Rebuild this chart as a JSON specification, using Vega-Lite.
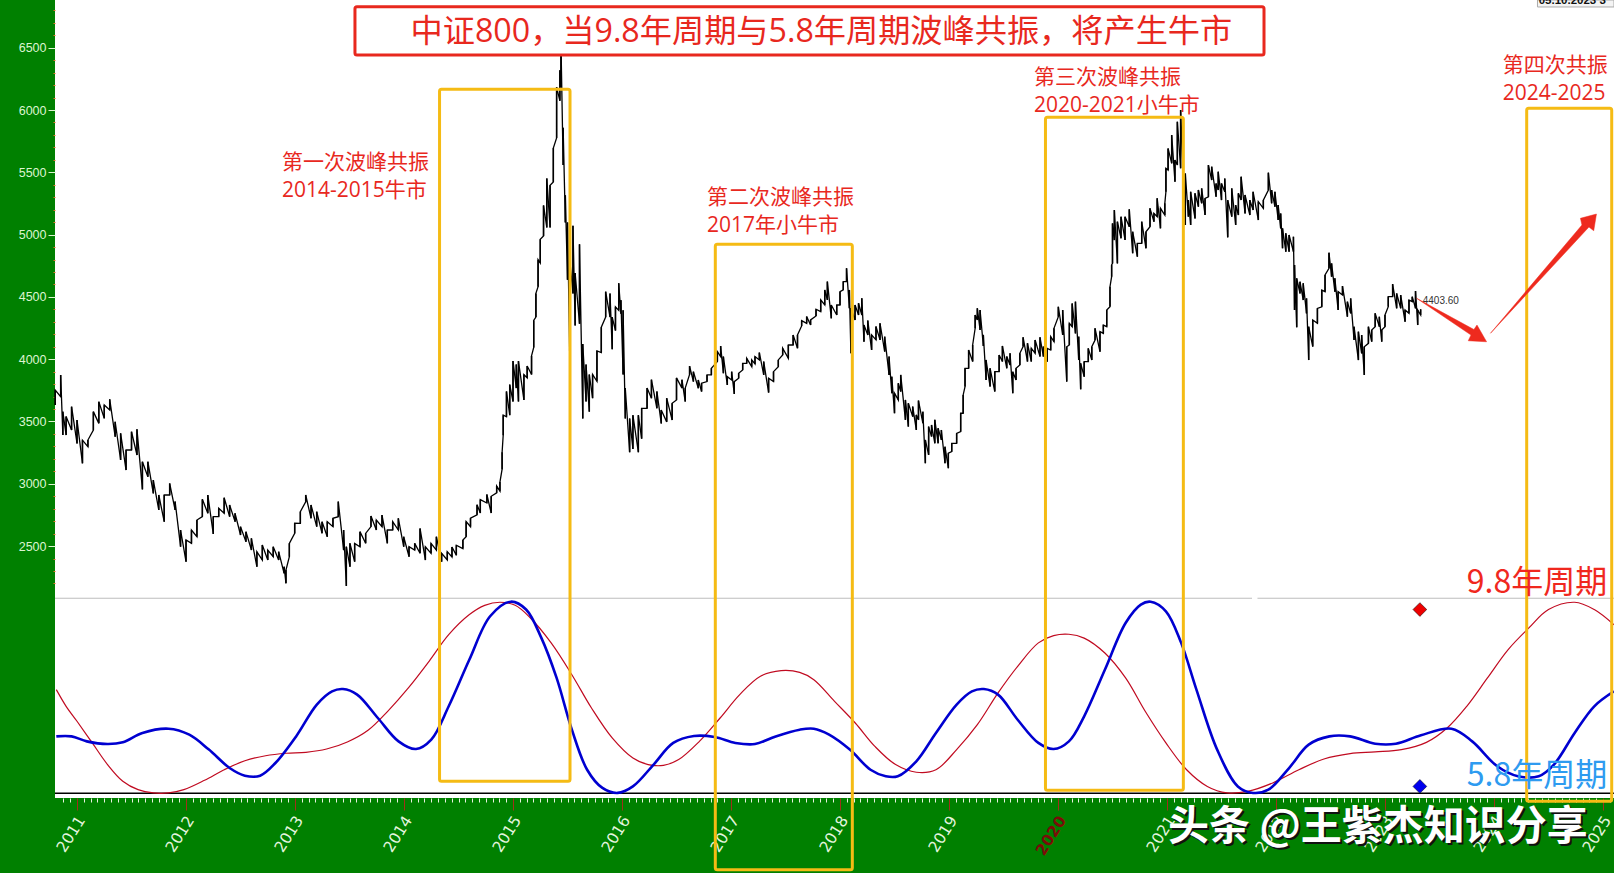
{
  "$schema": "https://vega.github.io/schema/vega-lite/v6.json",
  "width": 1559,
  "height": 798,
  "autosize": "none",
  "padding": {"left": 55, "top": 0, "right": 0, "bottom": 75},
  "background": "#008000",
  "view": {"fill": "white", "stroke": null},
  "config": {"font": "Noto Sans CJK SC"},
  "datasets": {
    "price": [
      {"t":2010.80,"low":3632,"high":3752},{"t":2010.85,"low":3699,"high":3873},{"t":2010.87,"low":3391,"high":3579},{"t":2010.90,"low":3391,"high":3540},{"t":2010.95,"low":3431,"high":3619},{"t":2011.00,"low":3324,"high":3512},{"t":2011.05,"low":3164,"high":3350},{"t":2011.10,"low":3298,"high":3351},{"t":2011.15,"low":3431,"high":3579},{"t":2011.20,"low":3485,"high":3659},{"t":2011.25,"low":3525,"high":3632},{"t":2011.30,"low":3592,"high":3678},{"t":2011.35,"low":3378,"high":3498},{"t":2011.40,"low":3191,"high":3405},{"t":2011.45,"low":3110,"high":3271},{"t":2011.50,"low":3271,"high":3418},{"t":2011.55,"low":3231,"high":3437},{"t":2011.60,"low":2955,"high":3177},{"t":2011.65,"low":3057,"high":3177},{"t":2011.70,"low":2923,"high":3030},{"t":2011.75,"low":2790,"high":2910},{"t":2011.80,"low":2696,"high":2910},{"t":2011.85,"low":2910,"high":3003},{"t":2011.90,"low":2790,"high":2857},{"t":2011.95,"low":2495,"high":2629},{"t":2012.00,"low":2375,"high":2549},{"t":2012.05,"low":2522,"high":2629},{"t":2012.10,"low":2575,"high":2709},{"t":2012.15,"low":2736,"high":2875},{"t":2012.20,"low":2763,"high":2910},{"t":2012.25,"low":2597,"high":2736},{"t":2012.30,"low":2736,"high":2803},{"t":2012.35,"low":2763,"high":2888},{"t":2012.40,"low":2736,"high":2830},{"t":2012.45,"low":2696,"high":2763},{"t":2012.50,"low":2589,"high":2656},{"t":2012.55,"low":2535,"high":2616},{"t":2012.60,"low":2468,"high":2562},{"t":2012.65,"low":2335,"high":2455},{"t":2012.70,"low":2388,"high":2509},{"t":2012.75,"low":2388,"high":2468},{"t":2012.80,"low":2415,"high":2495},{"t":2012.85,"low":2388,"high":2455},{"t":2012.90,"low":2281,"high":2335},
      {"t":2012.917,"low":2201,"high":2308},{"t":2012.948,"low":2415,"high":2522},{"t":2012.997,"low":2602,"high":2683},{"t":2013.049,"low":2682,"high":2776},{"t":2013.098,"low":2856,"high":2910},{"t":2013.147,"low":2723,"high":2830},{"t":2013.199,"low":2656,"high":2776},{"t":2013.248,"low":2602,"high":2696},{"t":2013.296,"low":2575,"high":2696},{"t":2013.348,"low":2656,"high":2723},{"t":2013.397,"low":2736,"high":2857},{"t":2013.446,"low":2468,"high":2629},{"t":2013.471,"low":2180,"high":2495},{"t":2013.504,"low":2335,"high":2522},{"t":2013.547,"low":2375,"high":2522},{"t":2013.596,"low":2495,"high":2616},{"t":2013.648,"low":2522,"high":2602},{"t":2013.697,"low":2656,"high":2741},{"t":2013.746,"low":2629,"high":2709},{"t":2013.798,"low":2656,"high":2749},{"t":2013.847,"low":2522,"high":2629},{"t":2013.896,"low":2629,"high":2696},{"t":2013.948,"low":2629,"high":2723},{"t":2013.997,"low":2495,"high":2575},{"t":2014.046,"low":2415,"high":2495},{"t":2014.098,"low":2468,"high":2522},{"t":2014.147,"low":2442,"high":2642},{"t":2014.196,"low":2388,"high":2495},{"t":2014.248,"low":2442,"high":2522},{"t":2014.297,"low":2468,"high":2575},{"t":2014.345,"low":2375,"high":2442},{"t":2014.397,"low":2388,"high":2455},
      {"t":2014.44,"low":2412,"high":2493},{"t":2014.48,"low":2426,"high":2507},{"t":2014.54,"low":2480,"high":2548},{"t":2014.57,"low":2575,"high":2697},{"t":2014.61,"low":2656,"high":2724},{"t":2014.67,"low":2751,"high":2832},{"t":2014.70,"low":2765,"high":2873},{"t":2014.76,"low":2846,"high":2914},{"t":2014.80,"low":2765,"high":2900},{"t":2014.85,"low":2927,"high":2982},{"t":2014.88,"low":2941,"high":3014},{"t":2014.90,"low":3117,"high":3253},{"t":2014.91,"low":3389,"high":3551},{"t":2014.94,"low":3538,"high":3741},{"t":2014.97,"low":3551,"high":3796},{"t":2015.00,"low":3660,"high":3985},{"t":2015.03,"low":3768,"high":3958},{"t":2015.05,"low":3660,"high":3985},{"t":2015.10,"low":3673,"high":3877},{"t":2015.13,"low":3850,"high":3945},{"t":2015.17,"low":3877,"high":4026},{"t":2015.19,"low":4094,"high":4311},{"t":2015.21,"low":4338,"high":4528},{"t":2015.23,"low":4582,"high":4799},{"t":2015.25,"low":4772,"high":4962},{"t":2015.28,"low":4989,"high":5234},{"t":2015.31,"low":5057,"high":5451},{"t":2015.34,"low":5057,"high":5396},{"t":2015.37,"low":5423,"high":5695},{"t":2015.40,"low":5776,"high":6183},{"t":2015.43,"low":6074,"high":6319},{"t":2015.44,"low":6183,"high":6540},{"t":2015.46,"low":5559,"high":5857},{"t":2015.48,"low":5098,"high":5315},{"t":2015.50,"low":4637,"high":5098},{"t":2015.52,"low":4067,"high":4799},{"t":2015.55,"low":4528,"high":5071},{"t":2015.57,"low":4270,"high":4691},{"t":2015.61,"low":4284,"high":4922},{"t":2015.64,"low":3524,"high":4121},{"t":2015.67,"low":3660,"high":3958},{"t":2015.70,"low":3579,"high":3877},{"t":2015.73,"low":3687,"high":3877},{"t":2015.77,"low":3823,"high":4067},{"t":2015.81,"low":4053,"high":4257},{"t":2015.85,"low":4338,"high":4542},{"t":2015.89,"low":4338,"high":4528},{"t":2015.91,"low":4080,"high":4338},{"t":2015.94,"low":4230,"high":4420},{"t":2015.97,"low":4392,"high":4610},{"t":2015.99,"low":4365,"high":4474},{"t":2016.01,"low":3877,"high":4392},{"t":2016.03,"low":3524,"high":3768},{"t":2016.07,"low":3253,"high":3524},{"t":2016.10,"low":3280,"high":3551},{"t":2016.15,"low":3253,"high":3551},{"t":2016.18,"low":3362,"high":3606},{"t":2016.23,"low":3606,"high":3768},{"t":2016.27,"low":3687,"high":3836},{"t":2016.32,"low":3606,"high":3741},{"t":2016.36,"low":3484,"high":3592},{"t":2016.41,"low":3497,"high":3687},{"t":2016.46,"low":3511,"high":3646},{"t":2016.50,"low":3673,"high":3850},{"t":2016.55,"low":3768,"high":3836},{"t":2016.58,"low":3660,"high":3768},{"t":2016.62,"low":3877,"high":3945},
      {"t":2016.655,"low":3820,"high":3900},{"t":2016.70,"low":3767,"high":3833},{"t":2016.73,"low":3740,"high":3807},{"t":2016.78,"low":3820,"high":3874},{"t":2016.82,"low":3874,"high":3927},{"t":2016.875,"low":3981,"high":4061},{"t":2016.905,"low":4021,"high":4106},{"t":2016.93,"low":3887,"high":4021},{"t":2016.966,"low":3793,"high":3860},{"t":2017.006,"low":3833,"high":3900},{"t":2017.03,"low":3721,"high":3820},{"t":2017.07,"low":3847,"high":3887},{"t":2017.107,"low":3914,"high":3967},{"t":2017.144,"low":3967,"high":4007},{"t":2017.19,"low":3940,"high":3994},{"t":2017.22,"low":3962,"high":4021},{"t":2017.26,"low":3994,"high":4053},{"t":2017.30,"low":3874,"high":3981},{"t":2017.345,"low":3732,"high":3847},{"t":2017.39,"low":3820,"high":3900},{"t":2017.434,"low":3940,"high":3994},{"t":2017.474,"low":4034,"high":4088},{"t":2017.526,"low":4007,"high":4114},{"t":2017.57,"low":4114,"high":4195},{"t":2017.61,"low":4088,"high":4195},{"t":2017.648,"low":4267,"high":4310},{"t":2017.694,"low":4288,"high":4342},{"t":2017.73,"low":4275,"high":4315},{"t":2017.78,"low":4347,"high":4401},{"t":2017.823,"low":4382,"high":4476},{"t":2017.86,"low":4435,"high":4556},{"t":2017.884,"low":4476,"high":4623},{"t":2017.92,"low":4328,"high":4435},{"t":2017.97,"low":4355,"high":4435},{"t":2018.00,"low":4435,"high":4542},{"t":2018.03,"low":4556,"high":4623},{"t":2018.06,"low":4623,"high":4730},{"t":2018.086,"low":4409,"high":4556},{"t":2018.10,"low":4047,"high":4409},{"t":2018.138,"low":4315,"high":4435},{"t":2018.17,"low":4355,"high":4449},{"t":2018.20,"low":4355,"high":4489},{"t":2018.22,"low":4141,"high":4275},{"t":2018.255,"low":4195,"high":4310},{"t":2018.29,"low":4074,"high":4195},{"t":2018.33,"low":4155,"high":4262},{"t":2018.367,"low":4155,"high":4288},{"t":2018.41,"low":4061,"high":4181},{"t":2018.45,"low":3874,"high":4021},{"t":2018.475,"low":3727,"high":3860},{"t":2018.50,"low":3566,"high":3727},{"t":2018.535,"low":3673,"high":3807},{"t":2018.557,"low":3740,"high":3874},{"t":2018.60,"low":3513,"high":3673},{"t":2018.627,"low":3459,"high":3646},{"t":2018.667,"low":3539,"high":3620},{"t":2018.70,"low":3432,"high":3553},{"t":2018.72,"low":3513,"high":3668},{"t":2018.76,"low":3486,"high":3579},{"t":2018.783,"low":3165,"high":3352},{"t":2018.813,"low":3232,"high":3459},{"t":2018.84,"low":3379,"high":3472},{"t":2018.87,"low":3325,"high":3513},{"t":2018.90,"low":3325,"high":3446},{"t":2018.93,"low":3352,"high":3432},{"t":2018.963,"low":3165,"high":3298},{"t":2018.994,"low":3125,"high":3245},{"t":2019.025,"low":3258,"high":3325},{"t":2019.07,"low":3325,"high":3405},{"t":2019.107,"low":3419,"high":3566},{"t":2019.13,"low":3566,"high":3713},{"t":2019.147,"low":3780,"high":3927},{"t":2019.18,"low":3927,"high":4074},{"t":2019.217,"low":3981,"high":4114},{"t":2019.24,"low":4248,"high":4355},{"t":2019.26,"low":4315,"high":4409},{"t":2019.285,"low":4235,"high":4395},{"t":2019.315,"low":4106,"high":4195},{"t":2019.34,"low":3834,"high":3994},{"t":2019.377,"low":3780,"high":3927},{"t":2019.42,"low":3740,"high":3900},{"t":2019.46,"low":3900,"high":4034},{"t":2019.49,"low":3981,"high":4106},{"t":2019.53,"low":3927,"high":4021},{"t":2019.56,"low":3954,"high":4047},{"t":2019.585,"low":3727,"high":3900},{"t":2019.615,"low":3833,"high":3927},{"t":2019.65,"low":3954,"high":4047},{"t":2019.68,"low":4101,"high":4176},{"t":2019.72,"low":3981,"high":4128},{"t":2019.755,"low":3981,"high":4088},{"t":2019.79,"low":4047,"high":4155},{"t":2019.835,"low":4021,"high":4176},{"t":2019.866,"low":4021,"high":4101},
      {"t":2019.90,"low":3980,"high":4087},{"t":2019.933,"low":4074,"high":4181},{"t":2019.963,"low":4141,"high":4248},{"t":2020.003,"low":4341,"high":4421},{"t":2020.043,"low":4194,"high":4395},{"t":2020.08,"low":3820,"high":4100},{"t":2020.104,"low":4114,"high":4288},{"t":2020.13,"low":4261,"high":4448},{"t":2020.16,"low":4207,"high":4462},{"t":2020.19,"low":3994,"high":4181},{"t":2020.208,"low":3758,"high":3967},{"t":2020.24,"low":3860,"high":3980},{"t":2020.278,"low":3980,"high":4087},{"t":2020.31,"low":3994,"high":4100},{"t":2020.34,"low":4154,"high":4248},{"t":2020.385,"low":4060,"high":4221},{"t":2020.416,"low":4207,"high":4274},{"t":2020.447,"low":4261,"high":4395},{"t":2020.477,"low":4422,"high":4582},{"t":2020.492,"low":4662,"high":4756},{"t":2020.50,"low":4769,"high":5090},{"t":2020.517,"low":4956,"high":5197},{"t":2020.545,"low":4769,"high":5104},{"t":2020.578,"low":4970,"high":5144},{"t":2020.615,"low":4957,"high":5144},{"t":2020.654,"low":5063,"high":5203},{"t":2020.685,"low":4850,"high":5023},{"t":2020.728,"low":4823,"high":4930},{"t":2020.768,"low":4930,"high":5104},{"t":2020.807,"low":4890,"high":5023},{"t":2020.844,"low":5063,"high":5211},{"t":2020.88,"low":5104,"high":5171},{"t":2020.91,"low":5144,"high":5291},{"t":2020.94,"low":5050,"high":5211},{"t":2020.98,"low":5157,"high":5251},{"t":2020.99,"low":5344,"high":5532},{"t":2021.01,"low":5518,"high":5692},{"t":2021.043,"low":5572,"high":5799},{"t":2021.073,"low":5425,"high":5598},{"t":2021.095,"low":5558,"high":5906},{"t":2021.125,"low":5532,"high":6000},{"t":2021.168,"low":5077,"high":5491},{"t":2021.196,"low":5144,"high":5277},{"t":2021.217,"low":5077,"high":5344},{"t":2021.257,"low":5130,"high":5331},{"t":2021.288,"low":5224,"high":5358},{"t":2021.318,"low":5251,"high":5371},{"t":2021.349,"low":5157,"high":5291},{"t":2021.38,"low":5304,"high":5558},{"t":2021.41,"low":5438,"high":5545},{"t":2021.45,"low":5304,"high":5411},{"t":2021.47,"low":5358,"high":5505},{"t":2021.50,"low":5277,"high":5411},{"t":2021.53,"low":5344,"high":5451},{"t":2021.557,"low":4978,"high":5277},{"t":2021.594,"low":5144,"high":5371},{"t":2021.63,"low":5077,"high":5237},{"t":2021.655,"low":5157,"high":5331},{"t":2021.68,"low":5277,"high":5465},{"t":2021.716,"low":5170,"high":5318},{"t":2021.76,"low":5157,"high":5277},{"t":2021.79,"low":5197,"high":5344},{"t":2021.838,"low":5117,"high":5264},{"t":2021.884,"low":5211,"high":5277},{"t":2021.93,"low":5358,"high":5497},{"t":2021.96,"low":5251,"high":5358},{"t":2021.99,"low":5224,"high":5344},{"t":2022.02,"low":5117,"high":5237},{"t":2022.043,"low":5050,"high":5170},{"t":2022.06,"low":4890,"high":5050},{"t":2022.09,"low":4863,"high":5010},{"t":2022.12,"low":4863,"high":4997},{"t":2022.16,"low":4863,"high":4983},{"t":2022.17,"low":4395,"high":4756},{"t":2022.19,"low":4256,"high":4649},{"t":2022.22,"low":4528,"high":4622},{"t":2022.25,"low":4475,"high":4609},{"t":2022.28,"low":4368,"high":4488},{"t":2022.30,"low":3993,"high":4261},{"t":2022.337,"low":4101,"high":4315},{"t":2022.38,"low":4288,"high":4408},{"t":2022.42,"low":4421,"high":4555},{"t":2022.45,"low":4542,"high":4676},{"t":2022.486,"low":4729,"high":4855},{"t":2022.51,"low":4662,"high":4769},{"t":2022.54,"low":4542,"high":4649},{"t":2022.57,"low":4395,"high":4542},{"t":2022.61,"low":4515,"high":4587},{"t":2022.655,"low":4341,"high":4462},{"t":2022.685,"low":4368,"high":4488},{"t":2022.716,"low":4154,"high":4261},{"t":2022.756,"low":3993,"high":4221},{"t":2022.786,"low":4047,"high":4194},{"t":2022.81,"low":3873,"high":4100},{"t":2022.848,"low":4127,"high":4261},{"t":2022.878,"low":4141,"high":4234},{"t":2022.91,"low":4261,"high":4368},{"t":2022.948,"low":4261,"high":4341},{"t":2022.97,"low":4141,"high":4234},{"t":2023.00,"low":4261,"high":4355},{"t":2023.03,"low":4422,"high":4502},{"t":2023.07,"low":4502,"high":4603},{"t":2023.107,"low":4408,"high":4528},{"t":2023.144,"low":4408,"high":4515},{"t":2023.184,"low":4301,"high":4395},{"t":2023.22,"low":4368,"high":4475},{"t":2023.25,"low":4462,"high":4502},{"t":2023.28,"low":4408,"high":4547},{"t":2023.30,"low":4274,"high":4395},{"t":2023.327,"low":4355,"high":4400}
    ],
    "cycles": [
      {"cycle":"9.8","t":2010.81,"v":54.1},{"cycle":"9.8","t":2010.90,"v":45.4},{"cycle":"9.8","t":2011.0,"v":37.6},{"cycle":"9.8","t":2011.14,"v":26.3},{"cycle":"9.8","t":2011.28,"v":15},{"cycle":"9.8","t":2011.42,"v":6.3},{"cycle":"9.8","t":2011.56,"v":1.9},{"cycle":"9.8","t":2011.70,"v":0.2},{"cycle":"9.8","t":2011.84,"v":0.2},{"cycle":"9.8","t":2011.98,"v":1.9},{"cycle":"9.8","t":2012.17,"v":6.8},{"cycle":"9.8","t":2012.35,"v":12.3},{"cycle":"9.8","t":2012.54,"v":17},{"cycle":"9.8","t":2012.73,"v":19.6},{"cycle":"9.8","t":2012.92,"v":20.9},{"cycle":"9.8","t":2013.10,"v":21.4},{"cycle":"9.8","t":2013.29,"v":23.1},{"cycle":"9.8","t":2013.48,"v":26.8},{"cycle":"9.8","t":2013.67,"v":32.9},{"cycle":"9.8","t":2013.85,"v":42.8},{"cycle":"9.8","t":2014.04,"v":55},{"cycle":"9.8","t":2014.23,"v":68.9},{"cycle":"9.8","t":2014.41,"v":82.8},{"cycle":"9.8","t":2014.60,"v":93.3},{"cycle":"9.8","t":2014.74,"v":98.1},{"cycle":"9.8","t":2014.88,"v":99.7},{"cycle":"9.8","t":2015.02,"v":98.1},{"cycle":"9.8","t":2015.16,"v":91.5},{"cycle":"9.8","t":2015.35,"v":78.5},{"cycle":"9.8","t":2015.54,"v":61.9},{"cycle":"9.8","t":2015.72,"v":44.5},{"cycle":"9.8","t":2015.91,"v":28.9},{"cycle":"9.8","t":2016.10,"v":18.4},{"cycle":"9.8","t":2016.24,"v":15},{"cycle":"9.8","t":2016.38,"v":14.6},{"cycle":"9.8","t":2016.52,"v":17.6},{"cycle":"9.8","t":2016.71,"v":27.1},{"cycle":"9.8","t":2016.90,"v":39.3},{"cycle":"9.8","t":2017.08,"v":51.5},{"cycle":"9.8","t":2017.27,"v":61.1},{"cycle":"9.8","t":2017.46,"v":64},{"cycle":"9.8","t":2017.63,"v":63.1},{"cycle":"9.8","t":2017.76,"v":59.3},{"cycle":"9.8","t":2017.95,"v":48},{"cycle":"9.8","t":2018.14,"v":36.7},{"cycle":"9.8","t":2018.32,"v":24.5},{"cycle":"9.8","t":2018.51,"v":15},{"cycle":"9.8","t":2018.70,"v":11},{"cycle":"9.8","t":2018.88,"v":12.3},{"cycle":"9.8","t":2019.07,"v":22.8},{"cycle":"9.8","t":2019.26,"v":35.8},{"cycle":"9.8","t":2019.45,"v":52.4},{"cycle":"9.8","t":2019.63,"v":66.3},{"cycle":"9.8","t":2019.82,"v":78.5},{"cycle":"9.8","t":2019.96,"v":82.3},{"cycle":"9.8","t":2020.10,"v":83},{"cycle":"9.8","t":2020.24,"v":81},{"cycle":"9.8","t":2020.43,"v":73.2},{"cycle":"9.8","t":2020.62,"v":60.2},{"cycle":"9.8","t":2020.80,"v":42.8},{"cycle":"9.8","t":2020.99,"v":26.3},{"cycle":"9.8","t":2021.18,"v":12.3},{"cycle":"9.8","t":2021.37,"v":3.6},{"cycle":"9.8","t":2021.55,"v":0.2},{"cycle":"9.8","t":2021.74,"v":1},{"cycle":"9.8","t":2021.97,"v":5.4},{"cycle":"9.8","t":2022.21,"v":12.3},{"cycle":"9.8","t":2022.44,"v":17.9},{"cycle":"9.8","t":2022.68,"v":20.7},{"cycle":"9.8","t":2022.91,"v":21.6},{"cycle":"9.8","t":2023.15,"v":22.8},{"cycle":"9.8","t":2023.38,"v":26.6},{"cycle":"9.8","t":2023.57,"v":34.1},{"cycle":"9.8","t":2023.75,"v":45.4},{"cycle":"9.8","t":2023.94,"v":60.2},{"cycle":"9.8","t":2024.13,"v":75},{"cycle":"9.8","t":2024.32,"v":86.3},{"cycle":"9.8","t":2024.50,"v":95.9},{"cycle":"9.8","t":2024.74,"v":99.7},{"cycle":"9.8","t":2024.92,"v":95.9},{"cycle":"9.8","t":2025.10,"v":88},
      {"cycle":"5.8","t":2010.81,"v":29.7},{"cycle":"5.8","t":2010.95,"v":29.7},{"cycle":"5.8","t":2011.09,"v":27.1},{"cycle":"5.8","t":2011.28,"v":25.7},{"cycle":"5.8","t":2011.42,"v":26.6},{"cycle":"5.8","t":2011.60,"v":31.5},{"cycle":"5.8","t":2011.84,"v":33.7},{"cycle":"5.8","t":2012.03,"v":30.6},{"cycle":"5.8","t":2012.21,"v":22.8},{"cycle":"5.8","t":2012.40,"v":13.2},{"cycle":"5.8","t":2012.54,"v":9.2},{"cycle":"5.8","t":2012.68,"v":9.2},{"cycle":"5.8","t":2012.82,"v":15.8},{"cycle":"5.8","t":2013.01,"v":29.7},{"cycle":"5.8","t":2013.20,"v":46.3},{"cycle":"5.8","t":2013.34,"v":53.2},{"cycle":"5.8","t":2013.44,"v":54.4},{"cycle":"5.8","t":2013.57,"v":51.5},{"cycle":"5.8","t":2013.76,"v":39.3},{"cycle":"5.8","t":2013.95,"v":27.1},{"cycle":"5.8","t":2014.11,"v":23.1},{"cycle":"5.8","t":2014.25,"v":28},{"cycle":"5.8","t":2014.41,"v":45.4},{"cycle":"5.8","t":2014.60,"v":69.8},{"cycle":"5.8","t":2014.79,"v":92.4},{"cycle":"5.8","t":2014.98,"v":100},{"cycle":"5.8","t":2015.12,"v":95.9},{"cycle":"5.8","t":2015.26,"v":81.1},{"cycle":"5.8","t":2015.40,"v":60.2},{"cycle":"5.8","t":2015.54,"v":33.2},{"cycle":"5.8","t":2015.68,"v":12.3},{"cycle":"5.8","t":2015.82,"v":2.8},{"cycle":"5.8","t":2015.96,"v":0.2},{"cycle":"5.8","t":2016.10,"v":3.6},{"cycle":"5.8","t":2016.29,"v":15},{"cycle":"5.8","t":2016.47,"v":26.3},{"cycle":"5.8","t":2016.66,"v":29.9},{"cycle":"5.8","t":2016.85,"v":29.4},{"cycle":"5.8","t":2017.04,"v":26.3},{"cycle":"5.8","t":2017.22,"v":25.7},{"cycle":"5.8","t":2017.41,"v":29.7},{"cycle":"5.8","t":2017.63,"v":33.2},{"cycle":"5.8","t":2017.76,"v":33.7},{"cycle":"5.8","t":2017.90,"v":30.6},{"cycle":"5.8","t":2018.09,"v":22.8},{"cycle":"5.8","t":2018.28,"v":12.3},{"cycle":"5.8","t":2018.42,"v":8.9},{"cycle":"5.8","t":2018.53,"v":8.9},{"cycle":"5.8","t":2018.70,"v":16.7},{"cycle":"5.8","t":2018.88,"v":31.5},{"cycle":"5.8","t":2019.07,"v":46.3},{"cycle":"5.8","t":2019.21,"v":53.2},{"cycle":"5.8","t":2019.32,"v":54.4},{"cycle":"5.8","t":2019.45,"v":51.5},{"cycle":"5.8","t":2019.63,"v":38.4},{"cycle":"5.8","t":2019.82,"v":26.3},{"cycle":"5.8","t":2019.96,"v":23.1},{"cycle":"5.8","t":2020.10,"v":27.1},{"cycle":"5.8","t":2020.24,"v":40.2},{"cycle":"5.8","t":2020.43,"v":64.5},{"cycle":"5.8","t":2020.62,"v":88.9},{"cycle":"5.8","t":2020.76,"v":98.5},{"cycle":"5.8","t":2020.85,"v":100},{"cycle":"5.8","t":2020.99,"v":95},{"cycle":"5.8","t":2021.13,"v":78.5},{"cycle":"5.8","t":2021.27,"v":54.1},{"cycle":"5.8","t":2021.46,"v":22.8},{"cycle":"5.8","t":2021.65,"v":3.6},{"cycle":"5.8","t":2021.79,"v":0.2},{"cycle":"5.8","t":2021.93,"v":1.9},{"cycle":"5.8","t":2022.12,"v":13.2},{"cycle":"5.8","t":2022.30,"v":25.4},{"cycle":"5.8","t":2022.49,"v":29.7},{"cycle":"5.8","t":2022.68,"v":29.7},{"cycle":"5.8","t":2022.91,"v":25.9},{"cycle":"5.8","t":2023.10,"v":25.9},{"cycle":"5.8","t":2023.33,"v":30.3},{"cycle":"5.8","t":2023.61,"v":33.7},{"cycle":"5.8","t":2023.80,"v":27.1},{"cycle":"5.8","t":2024.03,"v":14.1},{"cycle":"5.8","t":2024.22,"v":8.9},{"cycle":"5.8","t":2024.41,"v":8.9},{"cycle":"5.8","t":2024.55,"v":15},{"cycle":"5.8","t":2024.74,"v":31.5},{"cycle":"5.8","t":2024.92,"v":45.4},{"cycle":"5.8","t":2025.10,"v":53.2}
    ],
    "boxes": [
      {"name":"第一次","t0":2014.326,"t1":2015.523,"p0":612,"p1":6166},
      {"name":"第二次","t0":2016.856,"t1":2018.113,"p0":-97,"p1":4922},
      {"name":"第三次","t0":2019.885,"t1":2021.15,"p0":540,"p1":5941},
      {"name":"第四次","t0":2024.30,"t1":2025.08,"p0":452,"p1":6014}
    ],
    "notes": [
      {"t":2012.88,"p":5575,"text":"第一次波峰共振"},
      {"t":2012.88,"p":5350,"text":"2014-2015牛市"},
      {"t":2016.78,"p":5290,"text":"第二次波峰共振"},
      {"t":2016.78,"p":5067,"text":"2017年小牛市"},
      {"t":2019.78,"p":6256,"text":"第三次波峰共振"},
      {"t":2019.78,"p":6036,"text":"2020-2021小牛市"},
      {"t":2024.08,"p":6352,"text":"第四次共振"},
      {"t":2024.08,"p":6127,"text":"2024-2025"}
    ],
    "arrows": [
      {"arrow":"down","i":1,"t":2023.29,"p":4489},{"arrow":"down","i":2,"t":2023.816,"p":4238},{"arrow":"down","i":3,"t":2023.844,"p":4274},{"arrow":"down","i":4,"t":2023.932,"p":4140},{"arrow":"down","i":5,"t":2023.764,"p":4148},{"arrow":"down","i":6,"t":2023.789,"p":4194},{"arrow":"down","i":7,"t":2023.29,"p":4489},
      {"arrow":"up","i":1,"t":2023.968,"p":4208},{"arrow":"up","i":2,"t":2024.807,"p":5077},{"arrow":"up","i":3,"t":2024.793,"p":5131},{"arrow":"up","i":4,"t":2024.94,"p":5165},{"arrow":"up","i":5,"t":2024.915,"p":5031},{"arrow":"up","i":6,"t":2024.871,"p":5061},{"arrow":"up","i":7,"t":2023.968,"p":4208}
    ]
  },
  "layer": [
    {
      "data": {"values": [{"t0":2010.798,"t1":2021.78,"v":101.8},{"t0":2021.83,"t1":2025.101,"v":101.8}]},
      "mark": {"type": "rule", "color": "#bdbdbd", "strokeWidth": 1},
      "encoding": {
        "x": {"field": "t0", "type": "quantitative", "scale": {"domain": [2010.798, 2025.101], "nice": false, "zero": false},
          "axis": {
            "title": null, "domain": false, "grid": false, "labelAngle": -58, "labelFont": "DejaVu Sans", "labelFontSize": 15.5,
            "labelAlign": "right", "labelBaseline": "middle", "labelPadding": 7, "labelOverlap": false, "labelBound": false, "labelFlush": false,
            "labelOffset": 4, "tickCount": 400,
            "labelExpr": "datum.value % 1 == 0 ? datum.value : ''",
            "labelColor": {"condition": {"test": "datum.value == 2020", "value": "#7a0c08"}, "value": "#e4f5df"},
            "labelFontWeight": {"condition": {"test": "datum.value == 2020", "value": "bold"}, "value": "normal"},
            "tickColor": {"condition": {"test": "datum.value % 1 == 0", "value": "#a0301a"}, "value": "#e8f2e0"},
            "tickSize": {"condition": {"test": "datum.value % 1 == 0", "value": 12}, "value": 4},
            "tickWidth": 1,
            "values": [2010.875,2010.9375,2011,2011.0625,2011.125,2011.1875,2011.25,2011.3125,2011.375,2011.4375,2011.5,2011.5625,2011.625,2011.6875,2011.75,2011.8125,2011.875,2011.9375,2012,2012.0625,2012.125,2012.1875,2012.25,2012.3125,2012.375,2012.4375,2012.5,2012.5625,2012.625,2012.6875,2012.75,2012.8125,2012.875,2012.9375,2013,2013.0625,2013.125,2013.1875,2013.25,2013.3125,2013.375,2013.4375,2013.5,2013.5625,2013.625,2013.6875,2013.75,2013.8125,2013.875,2013.9375,2014,2014.0625,2014.125,2014.1875,2014.25,2014.3125,2014.375,2014.4375,2014.5,2014.5625,2014.625,2014.6875,2014.75,2014.8125,2014.875,2014.9375,2015,2015.0625,2015.125,2015.1875,2015.25,2015.3125,2015.375,2015.4375,2015.5,2015.5625,2015.625,2015.6875,2015.75,2015.8125,2015.875,2015.9375,2016,2016.0625,2016.125,2016.1875,2016.25,2016.3125,2016.375,2016.4375,2016.5,2016.5625,2016.625,2016.6875,2016.75,2016.8125,2016.875,2016.9375,2017,2017.0625,2017.125,2017.1875,2017.25,2017.3125,2017.375,2017.4375,2017.5,2017.5625,2017.625,2017.6875,2017.75,2017.8125,2017.875,2017.9375,2018,2018.0625,2018.125,2018.1875,2018.25,2018.3125,2018.375,2018.4375,2018.5,2018.5625,2018.625,2018.6875,2018.75,2018.8125,2018.875,2018.9375,2019,2019.0625,2019.125,2019.1875,2019.25,2019.3125,2019.375,2019.4375,2019.5,2019.5625,2019.625,2019.6875,2019.75,2019.8125,2019.875,2019.9375,2020,2020.0625,2020.125,2020.1875,2020.25,2020.3125,2020.375,2020.4375,2020.5,2020.5625,2020.625,2020.6875,2020.75,2020.8125,2020.875,2020.9375,2021,2021.0625,2021.125,2021.1875,2021.25,2021.3125,2021.375,2021.4375,2021.5,2021.5625,2021.625,2021.6875,2021.75,2021.8125,2021.875,2021.9375,2022,2022.0625,2022.125,2022.1875,2022.25,2022.3125,2022.375,2022.4375,2022.5,2022.5625,2022.625,2022.6875,2022.75,2022.8125,2022.875,2022.9375,2023,2023.0625,2023.125,2023.1875,2023.25,2023.3125,2023.375,2023.4375,2023.5,2023.5625,2023.625,2023.6875,2023.75,2023.8125,2023.875,2023.9375,2024,2024.0625,2024.125,2024.1875,2024.25,2024.3125,2024.375,2024.4375,2024.5,2024.5625,2024.625,2024.6875,2024.75,2024.8125,2024.875,2024.9375,2025,2025.0625]
          }},
        "x2": {"field": "t1"},
        "y": {"field": "v", "type": "quantitative", "scale": {"domain": [-2.45, 414], "nice": false, "zero": false}, "axis": null}
      }
    },
    {
      "data": {"values": [{"v":0}]},
      "mark": {"type": "rule", "color": "black", "strokeWidth": 1.5},
      "encoding": {
        "y": {"field": "v", "type": "quantitative", "scale": {"domain": [-2.45, 414], "nice": false, "zero": false}, "axis": null}
      }
    },
    {
      "data": {"name": "price"},
      "mark": {"type": "rule", "color": "black", "strokeWidth": 1.5},
      "encoding": {
        "x": {"field": "t", "type": "quantitative"},
        "y": {"field": "low", "type": "quantitative", "scale": {"domain": [478, 6883], "nice": false, "zero": false},
          "axis": {
            "title": null, "domain": false, "grid": false, "labelFont": "Liberation Sans", "labelFontSize": 12.5, "labelColor": "#dcf5d0", "labelPadding": 2, "tickCount": 200,
            "values": [2200,2300,2400,2500,2600,2700,2800,2900,3000,3100,3200,3300,3400,3500,3600,3700,3800,3900,4000,4100,4200,4300,4400,4500,4600,4700,4800,4900,5000,5100,5200,5300,5400,5500,5600,5700,5800,5900,6000,6100,6200,6300,6400,6500,6600,6700,6800],
            "labelExpr": "datum.value % 500 == 0 ? datum.value : ''",
            "tickColor": {"condition": {"test": "datum.value % 500 == 0", "value": "#dcf5d0"}, "value": "#e0702a"},
            "tickSize": {"condition": {"test": "datum.value % 500 == 0", "value": 7}, "value": 2}
          }},
        "y2": {"field": "high"}
      }
    },
    {
      "data": {"name": "price"},
      "transform": [{"fold": ["low", "high"], "as": ["end", "index"]}],
      "mark": {"type": "line", "color": "black", "strokeWidth": 1.3, "interpolate": "linear"},
      "encoding": {
        "x": {"field": "t", "type": "quantitative"},
        "y": {"field": "index", "type": "quantitative", "scale": {"domain": [478, 6883], "nice": false, "zero": false}, "axis": null}
      }
    },
    {
      "data": {"name": "cycles"},
      "mark": {"type": "line", "interpolate": "catmull-rom"},
      "encoding": {
        "x": {"field": "t", "type": "quantitative"},
        "y": {"field": "v", "type": "quantitative", "scale": {"domain": [-2.45, 414], "nice": false, "zero": false}, "axis": null},
        "color": {"field": "cycle", "type": "nominal", "scale": {"domain": ["9.8", "5.8"], "range": ["#c00a20", "#0000d0"]}, "legend": null},
        "strokeWidth": {"field": "cycle", "type": "nominal", "scale": {"domain": ["9.8", "5.8"], "range": [1.2, 2.6]}, "legend": null}
      }
    },
    {
      "data": {"values": [{"cycle":"9.8","t":2023.32,"v":95.9},{"cycle":"5.8","t":2023.32,"v":3.6}]},
      "mark": {"type": "point", "shape": "diamond", "filled": true, "size": 190, "stroke": "black", "strokeWidth": 0.5, "opacity": 1},
      "encoding": {
        "x": {"field": "t", "type": "quantitative"},
        "y": {"field": "v", "type": "quantitative", "scale": {"domain": [-2.45, 414], "nice": false, "zero": false}, "axis": null},
        "fill": {"field": "cycle", "type": "nominal", "scale": {"domain": ["9.8", "5.8"], "range": ["#ee0000", "#0000ee"]}, "legend": null}
      }
    },
    {
      "data": {"values": [{"t":2023.346,"p":4467,"text":"4403.60"}]},
      "mark": {"type": "text", "align": "left", "baseline": "middle", "font": "Liberation Sans", "fontSize": 10, "color": "#333333"},
      "encoding": {
        "x": {"field": "t", "type": "quantitative"},
        "y": {"field": "p", "type": "quantitative", "scale": {"domain": [478, 6883], "nice": false, "zero": false}, "axis": null},
        "text": {"field": "text"}
      }
    },
    {
      "data": {"values": [{"t0":2024.399,"t1":2025.101,"p0":6827,"p1":6883}]},
      "mark": {"type": "rect", "fill": "#f4f4f4", "stroke": "#aaaaaa", "strokeWidth": 1},
      "encoding": {
        "x": {"field": "t0", "type": "quantitative"},
        "x2": {"field": "t1"},
        "y": {"field": "p0", "type": "quantitative", "scale": {"domain": [478, 6883], "nice": false, "zero": false}, "axis": null},
        "y2": {"field": "p1"}
      }
    },
    {
      "data": {"values": [{"t":2024.41,"p":6851,"text":"05.10.2023 3"}]},
      "mark": {"type": "text", "align": "left", "baseline": "alphabetic", "font": "Liberation Sans", "fontSize": 11.5, "fontWeight": "bold", "color": "#111111"},
      "encoding": {
        "x": {"field": "t", "type": "quantitative"},
        "y": {"field": "p", "type": "quantitative", "scale": {"domain": [478, 6883], "nice": false, "zero": false}, "axis": null},
        "text": {"field": "text"}
      }
    },
    {
      "data": {"values": [{"t0":2013.55,"t1":2021.89,"p0":6441,"p1":6829}]},
      "mark": {"type": "rect", "fill": "white", "stroke": "#e8281e", "strokeWidth": 3, "cornerRadius": 2},
      "encoding": {
        "x": {"field": "t0", "type": "quantitative"},
        "x2": {"field": "t1"},
        "y": {"field": "p0", "type": "quantitative", "scale": {"domain": [478, 6883], "nice": false, "zero": false}, "axis": null},
        "y2": {"field": "p1"}
      }
    },
    {
      "data": {"name": "boxes"},
      "mark": {"type": "rect", "fill": null, "stroke": "#f5bb14", "strokeWidth": 3, "cornerRadius": 2},
      "encoding": {
        "x": {"field": "t0", "type": "quantitative"},
        "x2": {"field": "t1"},
        "y": {"field": "p0", "type": "quantitative", "scale": {"domain": [478, 6883], "nice": false, "zero": false}, "axis": null},
        "y2": {"field": "p1"}
      }
    },
    {
      "data": {"name": "arrows"},
      "mark": {"type": "line", "fill": "#ee2a1e", "stroke": "#ee2a1e", "strokeWidth": 0.5, "interpolate": "linear"},
      "encoding": {
        "x": {"field": "t", "type": "quantitative"},
        "y": {"field": "p", "type": "quantitative", "scale": {"domain": [478, 6883], "nice": false, "zero": false}, "axis": null},
        "detail": {"field": "arrow"},
        "order": {"field": "i"}
      }
    },
    {
      "data": {"values": [{"t":2014.06,"p":6626,"text":"中证800，当9.8年周期与5.8年周期波峰共振，将产生牛市"}]},
      "mark": {"type": "text", "align": "left", "baseline": "middle", "font": "Open Sans, Noto Sans CJK SC", "fontSize": 32.2, "color": "#e8281e"},
      "encoding": {
        "x": {"field": "t", "type": "quantitative"},
        "y": {"field": "p", "type": "quantitative", "scale": {"domain": [478, 6883], "nice": false, "zero": false}, "axis": null},
        "text": {"field": "text"}
      }
    },
    {
      "data": {"name": "notes"},
      "mark": {"type": "text", "align": "left", "baseline": "middle", "font": "Open Sans, Noto Sans CJK SC", "fontSize": 21, "color": "#e8281e"},
      "encoding": {
        "x": {"field": "t", "type": "quantitative"},
        "y": {"field": "p", "type": "quantitative", "scale": {"domain": [478, 6883], "nice": false, "zero": false}, "axis": null},
        "text": {"field": "text"}
      }
    },
    {
      "data": {"values": [{"t":2023.75,"p":2203,"text":"9.8年周期","cycle":"9.8"},{"t":2023.75,"p":656,"text":"5.8年周期","cycle":"5.8"}]},
      "mark": {"type": "text", "align": "left", "baseline": "middle", "fontSize": 32},
      "encoding": {
        "x": {"field": "t", "type": "quantitative"},
        "y": {"field": "p", "type": "quantitative", "scale": {"domain": [478, 6883], "nice": false, "zero": false}, "axis": null},
        "text": {"field": "text"},
        "color": {"field": "cycle", "type": "nominal", "scale": {"domain": ["9.8", "5.8"], "range": ["#f0281e", "#2e9bf0"]}, "legend": null}
      }
    },
    {
      "data": {"values": [{"t":2021.01,"p":235,"text":"头条 @王紫杰知识分享"}]},
      "mark": {"type": "text", "align": "left", "baseline": "middle", "fontSize": 41, "fontWeight": "bold", "color": "#111111", "dx": 2, "dy": 2},
      "encoding": {
        "x": {"field": "t", "type": "quantitative"},
        "y": {"field": "p", "type": "quantitative", "scale": {"domain": [478, 6883], "nice": false, "zero": false}, "axis": null},
        "text": {"field": "text"}
      }
    },
    {
      "data": {"values": [{"t":2021.01,"p":235,"text":"头条 @王紫杰知识分享"}]},
      "mark": {"type": "text", "align": "left", "baseline": "middle", "fontSize": 41, "fontWeight": "bold", "color": "white"},
      "encoding": {
        "x": {"field": "t", "type": "quantitative"},
        "y": {"field": "p", "type": "quantitative", "scale": {"domain": [478, 6883], "nice": false, "zero": false}, "axis": null},
        "text": {"field": "text"}
      }
    }
  ],
  "resolve": {"scale": {"y": "independent", "color": "independent", "strokeWidth": "independent", "fill": "independent"}}
}
